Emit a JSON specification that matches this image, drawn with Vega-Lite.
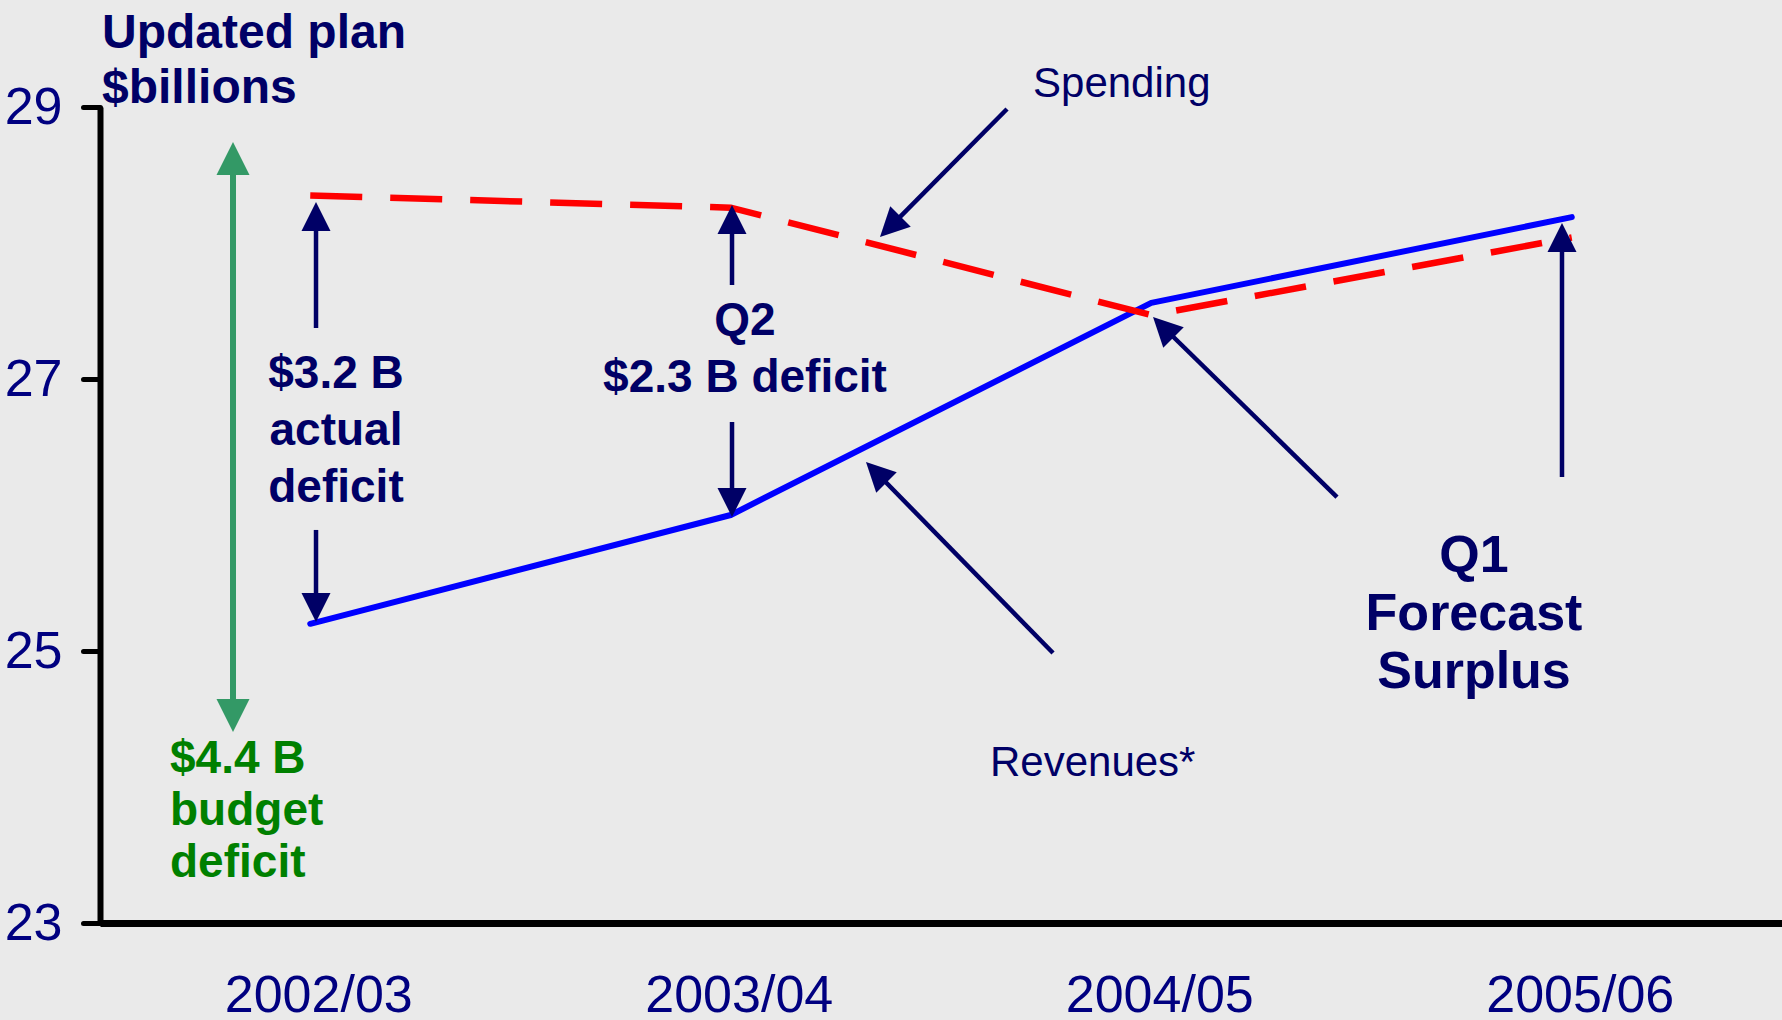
{
  "$schema": "https://vega.github.io/schema/vega-lite/v6.json",
  "width": 1682,
  "height": 816,
  "autosize": {"type": "none"},
  "padding": {"left": 100, "top": 107, "right": 0, "bottom": 97},
  "background": "#eaeaea",
  "config": {"view": {"stroke": null}, "font": "Liberation Sans"},
  "datasets": {
    "lines": [
      {"year": "2002/03", "x": 0, "series": "Revenues", "value": 25.2},
      {"year": "2003/04", "x": 1, "series": "Revenues", "value": 26.0},
      {"year": "2004/05", "x": 2, "series": "Revenues", "value": 27.56},
      {"year": "2005/06", "x": 3, "series": "Revenues", "value": 28.19},
      {"year": "2002/03", "x": 0, "series": "Spending", "value": 28.35},
      {"year": "2003/04", "x": 1, "series": "Spending", "value": 28.26},
      {"year": "2004/05", "x": 2, "series": "Spending", "value": 27.47},
      {"year": "2005/06", "x": 3, "series": "Spending", "value": 28.04}
    ],
    "shafts": [
      {"x": 0.0137, "y": 27.375, "x2": 0.0137, "y2": 28.132},
      {"x": 0.0137, "y": 25.89, "x2": 0.0137, "y2": 25.375},
      {"x": 1.003, "y": 27.691, "x2": 1.003, "y2": 28.096},
      {"x": 1.003, "y": 26.684, "x2": 1.003, "y2": 26.162},
      {"x": 1.657, "y": 28.985, "x2": 1.3885, "y2": 28.1485},
      {"x": 1.7664, "y": 24.985, "x2": 1.3549, "y2": 26.285},
      {"x": 2.4417, "y": 26.132, "x2": 2.0382, "y2": 27.353},
      {"x": 2.9768, "y": 26.279, "x2": 2.9768, "y2": 27.985}
    ],
    "headsUp": [
      {"x": 0.0137, "y": 28.301},
      {"x": 1.003, "y": 28.279},
      {"x": 2.9768, "y": 28.147}
    ],
    "headsDown": [
      {"x": 0.0137, "y": 25.213},
      {"x": 1.003, "y": 25.985}
    ],
    "headSpend": [
      {"x": 1.3549, "y": 28.044}
    ],
    "headsDiag": [
      {"x": 1.3216, "y": 26.39},
      {"x": 2.0042, "y": 27.456}
    ],
    "green": [
      {"x": -0.1837, "y": 28.551, "x2": -0.1837, "y2": 24.596}
    ],
    "greenUp": [{"x": -0.1837, "y": 28.743}],
    "greenDown": [{"x": -0.1837, "y": 24.404}],
    "title": [{"x": -0.4952, "y": 29.434, "t": "Updated plan\n$billions"}],
    "actual": [{"x": 0.0612, "y": 26.934, "t": "$3.2 B\nactual\ndeficit"}],
    "q2": [{"x": 1.0339, "y": 27.324, "t": "Q2\n$2.3 B deficit"}],
    "q1": [{"x": 2.7675, "y": 25.581, "t": "Q1\nForecast\nSurplus"}],
    "budget": [{"x": -0.3335, "y": 24.103, "t": "$4.4 B\nbudget\ndeficit"}],
    "labels": [
      {"x": 1.7188, "y": 29.074, "t": "Spending"},
      {"x": 1.6165, "y": 24.08, "t": "Revenues*"}
    ]
  },
  "layer": [
    {
      "data": {"name": "lines"},
      "transform": [{"filter": "datum.series === 'Revenues'"}],
      "mark": {"type": "line", "color": "#0000ff", "strokeWidth": 6, "strokeCap": "round", "strokeJoin": "round"},
      "encoding": {
        "x": {"field": "x", "type": "quantitative", "scale": {"domain": [-0.5, 3.5], "nice": false, "zero": false},
          "axis": {"values": [0, 1, 2, 3], "labelExpr": "['2002/03','2003/04','2004/05','2005/06'][datum.value]", "title": null, "grid": false, "ticks": false, "tickSize": 0, "domainColor": "#000000", "domainWidth": 7, "labelFontSize": 52, "labelColor": "#000080", "labelFont": "Liberation Sans", "labelPadding": 88, "labelBaseline": "alphabetic", "labelOffset": 8, "labelFlush": false, "labelOverlap": false, "labelLimit": 500}},
        "y": {"field": "value", "type": "quantitative", "scale": {"domain": [23, 29], "nice": false, "zero": false},
          "axis": {"values": [23, 25, 27, 29], "format": "d", "title": null, "grid": false, "domainColor": "#000000", "domainWidth": 6, "tickColor": "#000000", "tickWidth": 5, "tickSize": 17, "tickCap": "round", "labelFontSize": 52, "labelColor": "#000080", "labelFont": "Liberation Sans", "labelPadding": 21, "labelOverlap": false, "labelLimit": 300}}
      }
    },
    {
      "data": {"name": "lines"},
      "transform": [{"filter": "datum.series === 'Spending'"}],
      "mark": {"type": "line", "color": "#ff0000", "strokeWidth": 6.5, "strokeDash": [52, 28]},
      "encoding": {
        "x": {"field": "x", "type": "quantitative"},
        "y": {"field": "value", "type": "quantitative"}
      }
    },
    {
      "data": {"name": "green"},
      "mark": {"type": "rule", "color": "#339966", "strokeWidth": 6},
      "encoding": {
        "x": {"field": "x", "type": "quantitative"},
        "y": {"field": "y", "type": "quantitative"},
        "x2": {"field": "x2"},
        "y2": {"field": "y2"}
      }
    },
    {
      "data": {"name": "greenUp"},
      "mark": {"type": "point", "shape": "M0,0L-0.5,1L0.5,1Z", "filled": true, "opacity": 1, "color": "#339966", "size": 4356, "angle": 0},
      "encoding": {
        "x": {"field": "x", "type": "quantitative"},
        "y": {"field": "y", "type": "quantitative"}
      }
    },
    {
      "data": {"name": "greenDown"},
      "mark": {"type": "point", "shape": "M0,0L-0.5,1L0.5,1Z", "filled": true, "opacity": 1, "color": "#339966", "size": 4356, "angle": 180},
      "encoding": {
        "x": {"field": "x", "type": "quantitative"},
        "y": {"field": "y", "type": "quantitative"}
      }
    },
    {
      "data": {"name": "shafts"},
      "mark": {"type": "rule", "color": "#000066", "strokeWidth": 4.5},
      "encoding": {
        "x": {"field": "x", "type": "quantitative"},
        "y": {"field": "y", "type": "quantitative"},
        "x2": {"field": "x2"},
        "y2": {"field": "y2"}
      }
    },
    {
      "data": {"name": "headsUp"},
      "mark": {"type": "point", "shape": "M0,0L-0.5,1L0.5,1Z", "filled": true, "opacity": 1, "color": "#000066", "size": 3364, "angle": 0},
      "encoding": {
        "x": {"field": "x", "type": "quantitative"},
        "y": {"field": "y", "type": "quantitative"}
      }
    },
    {
      "data": {"name": "headsDown"},
      "mark": {"type": "point", "shape": "M0,0L-0.5,1L0.5,1Z", "filled": true, "opacity": 1, "color": "#000066", "size": 3364, "angle": 180},
      "encoding": {
        "x": {"field": "x", "type": "quantitative"},
        "y": {"field": "y", "type": "quantitative"}
      }
    },
    {
      "data": {"name": "headSpend"},
      "mark": {"type": "point", "shape": "M0,0L-0.5,1L0.5,1Z", "filled": true, "opacity": 1, "color": "#000066", "size": 3364, "angle": 225},
      "encoding": {
        "x": {"field": "x", "type": "quantitative"},
        "y": {"field": "y", "type": "quantitative"}
      }
    },
    {
      "data": {"name": "headsDiag"},
      "mark": {"type": "point", "shape": "M0,0L-0.5,1L0.5,1Z", "filled": true, "opacity": 1, "color": "#000066", "size": 3364, "angle": 315},
      "encoding": {
        "x": {"field": "x", "type": "quantitative"},
        "y": {"field": "y", "type": "quantitative"}
      }
    },
    {
      "data": {"name": "title"},
      "mark": {"type": "text", "font": "Liberation Sans", "fontWeight": "bold", "fontSize": 48, "color": "#000066", "align": "left", "baseline": "alphabetic", "lineBreak": "\n", "lineHeight": 55},
      "encoding": {
        "x": {"field": "x", "type": "quantitative"},
        "y": {"field": "y", "type": "quantitative"},
        "text": {"field": "t"}
      }
    },
    {
      "data": {"name": "actual"},
      "mark": {"type": "text", "font": "Liberation Sans", "fontWeight": "bold", "fontSize": 46, "color": "#000066", "align": "center", "baseline": "alphabetic", "lineBreak": "\n", "lineHeight": 57},
      "encoding": {
        "x": {"field": "x", "type": "quantitative"},
        "y": {"field": "y", "type": "quantitative"},
        "text": {"field": "t"}
      }
    },
    {
      "data": {"name": "q2"},
      "mark": {"type": "text", "font": "Liberation Sans", "fontWeight": "bold", "fontSize": 46, "color": "#000066", "align": "center", "baseline": "alphabetic", "lineBreak": "\n", "lineHeight": 57},
      "encoding": {
        "x": {"field": "x", "type": "quantitative"},
        "y": {"field": "y", "type": "quantitative"},
        "text": {"field": "t"}
      }
    },
    {
      "data": {"name": "q1"},
      "mark": {"type": "text", "font": "Liberation Sans", "fontWeight": "bold", "fontSize": 52, "color": "#000066", "align": "center", "baseline": "alphabetic", "lineBreak": "\n", "lineHeight": 58},
      "encoding": {
        "x": {"field": "x", "type": "quantitative"},
        "y": {"field": "y", "type": "quantitative"},
        "text": {"field": "t"}
      }
    },
    {
      "data": {"name": "budget"},
      "mark": {"type": "text", "font": "Liberation Sans", "fontWeight": "bold", "fontSize": 46, "color": "#008000", "align": "left", "baseline": "alphabetic", "lineBreak": "\n", "lineHeight": 52},
      "encoding": {
        "x": {"field": "x", "type": "quantitative"},
        "y": {"field": "y", "type": "quantitative"},
        "text": {"field": "t"}
      }
    },
    {
      "data": {"name": "labels"},
      "mark": {"type": "text", "font": "Liberation Sans", "fontSize": 42, "color": "#000066", "align": "left", "baseline": "alphabetic"},
      "encoding": {
        "x": {"field": "x", "type": "quantitative"},
        "y": {"field": "y", "type": "quantitative"},
        "text": {"field": "t"}
      }
    }
  ]
}
